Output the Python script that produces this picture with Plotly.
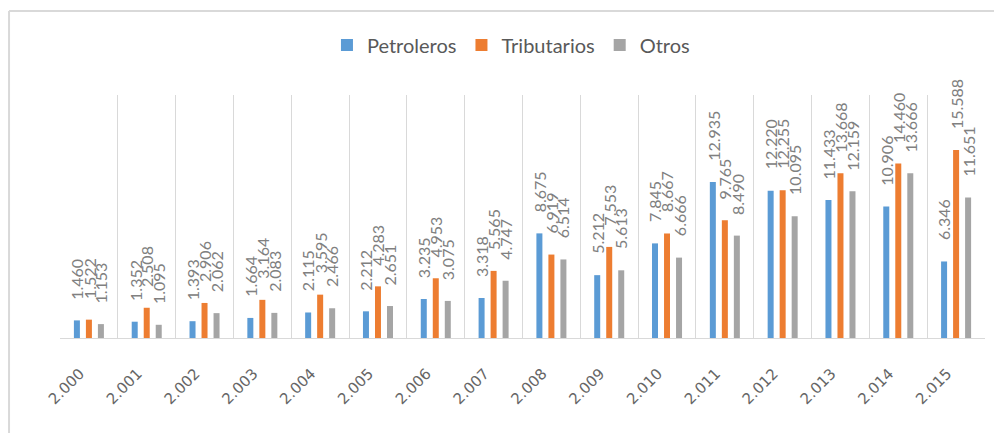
import plotly.graph_objects as go

years = [2000, 2001, 2002, 2003, 2004, 2005, 2006, 2007,
         2008, 2009, 2010, 2011, 2012, 2013, 2014, 2015]
petroleros = [1460, 1352, 1393, 1664, 2115, 2212, 3235, 3318,
              8675, 5212, 7845, 12935, 12220, 11433, 10906, 6346]
tributarios = [1522, 2508, 2906, 3164, 3595, 4283, 4953, 5565,
               6919, 7553, 8667, 9765, 12255, 13668, 14460, 15588]
otros = [1153, 1095, 2062, 2083, 2466, 2651, 3075, 4747,
         6514, 5613, 6666, 8490, 10095, 12159, 13666, 11651]

series = [("Petroleros", petroleros, "#5B9BD5"),
          ("Tributarios", tributarios, "#ED7D31"),
          ("Otros", otros, "#A5A5A5")]


def fmt(v):
    return f"{v:,}".replace(",", ".")


categories = [fmt(y) for y in years]

fig = go.Figure()
for name, vals, color in series:
    fig.add_trace(go.Bar(x=categories, y=vals, name=name,
                         marker=dict(color=color, line=dict(width=0))))

annotations = []
shifts = [-12, 0, 12]
for (name, vals, color), xs in zip(series, shifts):
    for i, v in enumerate(vals):
        annotations.append(dict(
            x=i, y=v, xref="x", yref="y", text=fmt(v), showarrow=False,
            textangle=-90, xanchor="center", yanchor="bottom",
            xshift=xs, yshift=19,
            font=dict(family="Lato, sans-serif", size=16, color="#808080")))

fig.update_layout(
    width=994, height=425,
    margin=dict(l=52, r=17, t=87, b=95, autoexpand=False),
    paper_bgcolor="white", plot_bgcolor="white",
    barmode="group", bargap=0.377, bargroupgap=0.5,
    showlegend=True,
    legend=dict(orientation="h", x=0.506, xref="container", xanchor="center",
                y=0.913, yref="container", yanchor="middle",
                font=dict(family="Lato, sans-serif", size=20, color="#595959"),
                itemclick=False),
    annotations=annotations,
    shapes=[
        dict(type="line", xref="paper", yref="paper", x0=-0.0551, x1=-0.0551,
             y0=-0.5, y1=1.3457, line=dict(color="#d9d9d9", width=2)),
        dict(type="line", xref="paper", yref="paper", x0=-0.0551, x1=1.05,
             y0=1.3457, y1=1.3457, line=dict(color="#d9d9d9", width=2)),
    ],
)
fig.update_xaxes(type="category", tickson="boundaries", showgrid=True,
                 gridcolor="#d9d9d9", gridwidth=1, showline=True,
                 linecolor="#d9d9d9", linewidth=1, ticks="", tickangle=-45,
                 ticklabelstandoff=20, ticklabelshift=-9, automargin=False,
                 tickfont=dict(family="DejaVu Sans, sans-serif", size=15,
                               color="#666666"))
fig.update_yaxes(visible=False, range=[0, 20150])

fig.write_html("out.html")
